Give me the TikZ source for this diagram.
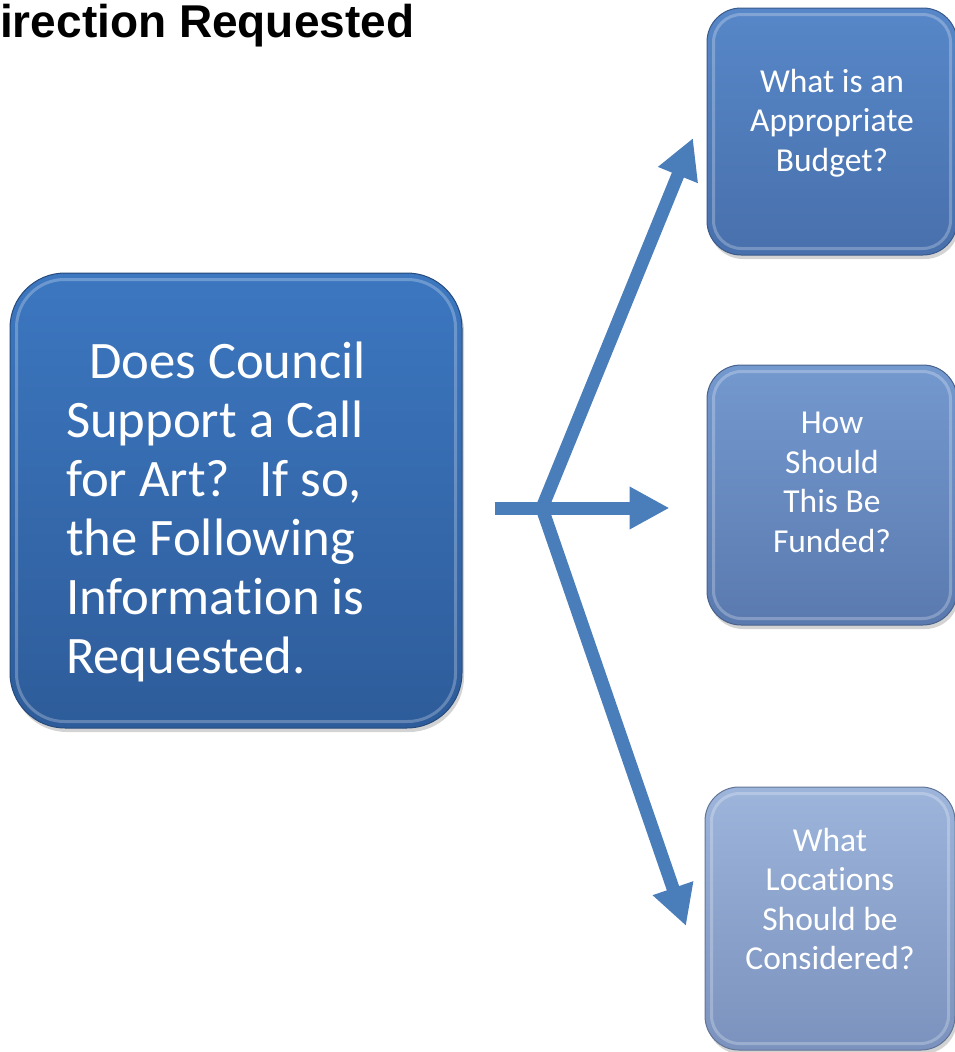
\documentclass[tikz,border=0pt]{standalone}
\usepackage{fontspec}
\setmainfont{Carlito}[Ligatures=NoCommon]
\newfontfamily\titlefont{Liberation Sans}
\usetikzlibrary{positioning, arrows.meta, shadows}
\definecolor{arrowblue}{HTML}{4A7EBB}
\definecolor{mainTop}{HTML}{3C77C0}
\definecolor{mainBot}{HTML}{2E5C9A}
\definecolor{budgetTop}{HTML}{5787C8}
\definecolor{budgetBot}{HTML}{4870AC}
\definecolor{fundTop}{HTML}{7499CF}
\definecolor{fundBot}{HTML}{5A7AAF}
\definecolor{locTop}{HTML}{9DB5DB}
\definecolor{locBot}{HTML}{7A92BD}
\tikzset{tile/.style 2 args={draw=#2!80!black, line width=1pt, top color=#1, bottom color=#2,
                             text=white, inner sep=0pt, align=center,
                             drop shadow={shadow xshift=2pt, shadow yshift=-4pt, opacity=0.35}},
         smalltile/.style={rounded corners=34pt, minimum width=250pt, font=\fontsize{33.5}{39.5}\selectfont},
         bevel/.style={draw=white, line width=3pt, opacity=0.25},
         bigtip/.tip={Triangle[length=40pt, width=40pt]},
         branch/.style={draw=arrowblue, line width=13pt, line join=miter},
        }
\newcommand{\padlast}[1]{\rule[-#1]{0pt}{#1}}

\begin{document}
\begin{tikzpicture}[x=1pt, y=-1pt]
        \useasboundingbox (0,0) rectangle (955,1052);
        \clip (0,0) rectangle (955,1052);

        \node[anchor=base west, inner sep=0pt, font=\titlefont\bfseries\fontsize{46}{52}\selectfont](title)at(0,37){irection Requested};

        \node[tile={mainTop}{mainBot}, rounded corners=55pt, minimum width=452pt, minimum height=455pt,
              text width=340pt, align=left, font=\fontsize{52.7}{59}\selectfont](main)at(236,500.5)
              {\spaceskip=0.23em\relax\rule{0pt}{60pt}\hspace*{23pt}Does Council\\Support a Call\\for Art?\hspace{0.55em}If so,\\the Following\\Information is\\Requested.};

        \node[tile={budgetTop}{budgetBot}, smalltile, minimum height=247pt](budget)at(832,131.5)
              {What is an\\Appropriate\\Budget?\padlast{23pt}};
        \node[tile={fundTop}{fundBot}, smalltile, minimum height=260pt](funding)at(832,495)
              {How\\Should\\This Be\\Funded?\padlast{26pt}};
        \node[tile={locTop}{locBot}, smalltile, minimum height=263pt](locations)at(830,918.5)
              {What\\Locations\\Should be\\Considered?\padlast{39pt}};

        % inner highlight of the bevel
        \foreach \n/\r in {main/48pt, budget/28pt, funding/28pt, locations/28pt}
            \draw[bevel, rounded corners=\r]([shift={(7pt,7pt)}]\n.south west) rectangle ([shift={(-7pt,-7pt)}]\n.north east);

        \coordinate (fork) at (542,508);
        \coordinate (budgettip) at (693,138);
        \coordinate (locationstip) at (686,926);

        \draw[branch, shorten <=32pt, shorten >=37pt, -bigtip](main.east |- fork)--(funding.west |- fork);
        \draw[branch, bigtip-bigtip](budgettip)--(fork)--(locationstip);
    \end{tikzpicture}
\end{document}
